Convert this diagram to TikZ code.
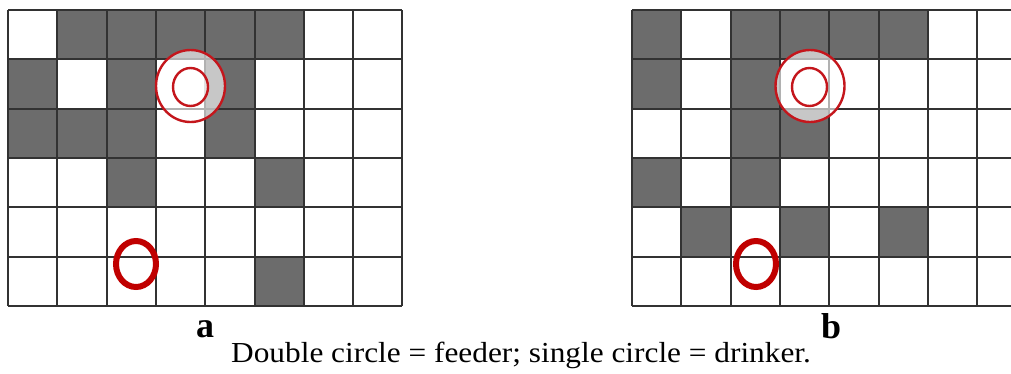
\documentclass[tikz,border=0pt]{standalone}
\usepackage{fontspec}
\setmainfont{Liberation Serif}
\definecolor{cellgray}{RGB}{108,108,108}
\definecolor{linegray}{RGB}{50,50,50}
\definecolor{ringred}{RGB}{196,22,28}
\definecolor{dotred}{RGB}{192,0,0}
\tikzset{
  gridline/.style={draw=linegray, line width=2pt, line cap=square},
  graycell/.style={fill=cellgray},
  feederring/.style={draw=ringred, line width=2.4pt, fill=white, fill opacity=0.62},
  drinkerring/.style={draw=dotred, line width=6pt},
  panellabel/.style={font=\fontsize{36}{40}\selectfont\bfseries, anchor=base, inner sep=0pt},
  captiontext/.style={font=\fontsize{29}{34}\selectfont, anchor=base west, inner sep=0pt}
}
\begin{document}
\begin{tikzpicture}[x=1pt,y=-1pt]
\useasboundingbox (0,0) rectangle (1011,373);
\fill[white] (0,0) rectangle (1011,373);
\def\w{49.3}
% ---------- grid a ----------
\foreach \c/\r in {1/0,2/0,3/0,4/0,5/0, 0/1,2/1,4/1, 0/2,1/2,2/2,4/2, 2/3,5/3, 5/5}
  \fill[graycell] ({8+\c*\w},{10+\r*\w}) rectangle ++(\w,\w);
\foreach \i in {0,...,8}
  \draw[gridline] ({8+\i*\w},10) -- ({8+\i*\w},305.8);
\foreach \j in {0,...,6}
  \draw[gridline] (8,{10+\j*\w}) -- (402.4,{10+\j*\w});
\draw[feederring] (190.5,86) ellipse [x radius=34.5pt, y radius=36pt];
\draw[feederring] (190.5,87) ellipse [x radius=17.5pt, y radius=19pt];
\draw[drinkerring] (136,264) ellipse [x radius=20pt, y radius=23pt];
% ---------- grid b ----------
\begin{scope}
\clip (600,0) rectangle (1011,373);
\foreach \c/\r in {0/0,2/0,3/0,4/0,5/0, 0/1,2/1, 2/2,3/2, 0/3,2/3, 1/4,3/4,5/4}
  \fill[graycell] ({632+\c*\w},{10+\r*\w}) rectangle ++(\w,\w);
\foreach \i in {0,...,8}
  \draw[gridline] ({632+\i*\w},10) -- ({632+\i*\w},305.8);
\foreach \j in {0,...,6}
  \draw[gridline] (632,{10+\j*\w}) -- (1026.4,{10+\j*\w});
\end{scope}
\draw[feederring] (810,86) ellipse [x radius=34.5pt, y radius=36pt];
\draw[feederring] (809.5,87) ellipse [x radius=17.5pt, y radius=19pt];
\draw[drinkerring] (756,264) ellipse [x radius=20pt, y radius=23pt];
% ---------- labels ----------
\node[panellabel] (labela) at (205,337) {a};
\node[panellabel] (labelb) at (831,338) {b};
\node[captiontext] (caption) at (231,362) {\scalebox{1.08}[1]{Double circle = feeder; single circle = drinker.}};
\end{tikzpicture}
\end{document}
